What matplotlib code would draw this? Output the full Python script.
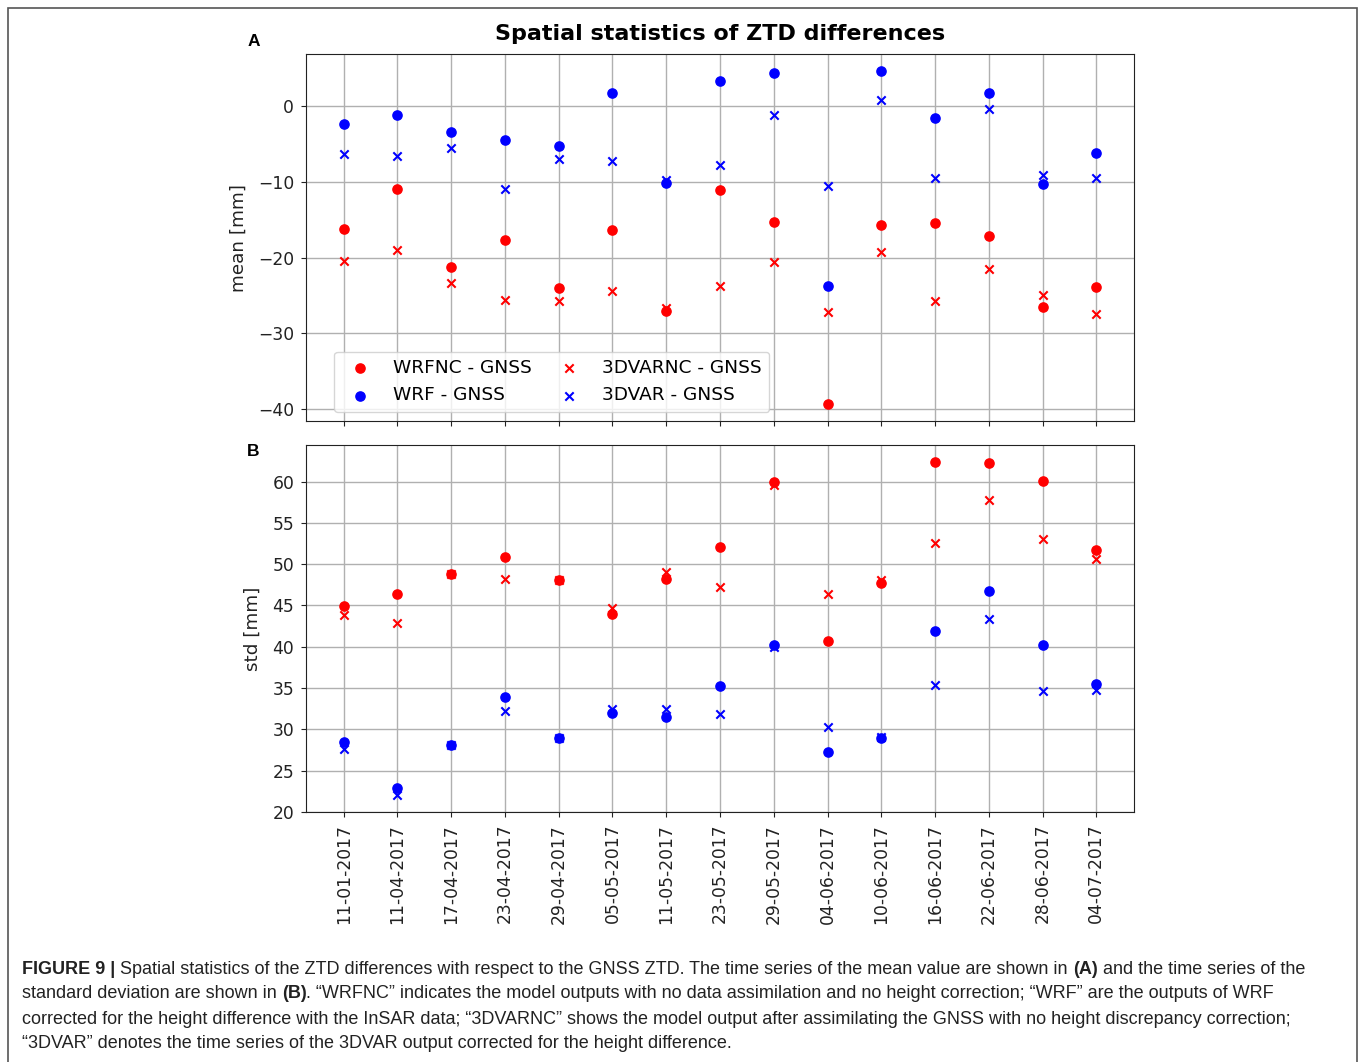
import numpy as np
import matplotlib
matplotlib.use("Agg")
import matplotlib.pyplot as plt
from matplotlib.patches import Rectangle

plt.rcParams["font.family"] = ["DejaVu Sans"]

# ---------------------------------------------------------------------------
# Data
# ---------------------------------------------------------------------------
dates = [
    "11-01-2017", "11-04-2017", "17-04-2017", "23-04-2017", "29-04-2017",
    "05-05-2017", "11-05-2017", "23-05-2017", "29-05-2017", "04-06-2017",
    "10-06-2017", "16-06-2017", "22-06-2017", "28-06-2017", "04-07-2017",
]

mean_wrfnc = [-16.2, -10.9, -21.2, -17.7, -24.0, -16.3, -27.1, -11.1, -15.3,
              -39.4, -15.7, -15.4, -17.2, -26.5, -23.9]
mean_wrf = [-2.3, -1.1, -3.4, -4.5, -5.2, 1.8, -10.2, 3.4, 4.4,
            -23.8, 4.7, -1.5, 1.8, -10.3, -6.2]
mean_3dvarnc = [-20.4, -19.0, -23.4, -25.6, -25.8, -24.4, -26.7, -23.8, -20.6,
                -27.2, -19.3, -25.8, -21.5, -24.9, -27.4]
mean_3dvar = [-6.3, -6.6, -5.5, -11.0, -7.0, -7.2, -9.7, -7.8, -1.1,
              -10.6, 0.8, -9.5, -0.4, -9.1, -9.5]

std_wrfnc = [44.9, 46.4, 48.8, 50.9, 48.1, 44.0, 48.2, 52.1, 59.9,
             40.7, 47.7, 62.4, 62.3, 60.1, 51.7]
std_wrf = [28.4, 22.9, 28.1, 33.9, 29.0, 32.0, 31.5, 35.2, 40.2,
           27.3, 29.0, 41.9, 46.7, 40.2, 35.5]
std_3dvarnc = [43.8, 42.9, 48.8, 48.2, 48.1, 44.7, 49.0, 47.2, 59.6,
               46.4, 48.1, 52.6, 57.7, 53.0, 50.6]
std_3dvar = [27.6, 22.0, 28.1, 32.2, 29.0, 32.4, 32.4, 31.9, 40.0,
             30.3, 29.1, 35.3, 43.4, 34.6, 34.7]

caption_lines = [
    [("FIGURE 9 | ", "bold"),
     ("Spatial statistics of the ZTD differences with respect to the GNSS ZTD. "
      "The time series of the mean value are shown in ", "normal"),
     ("(A)", "bold"),
     (" and the time series of the", "normal")],
    [("standard deviation are shown in ", "normal"),
     ("(B)", "bold"),
     (". \u201cWRFNC\u201d indicates the model outputs with no data assimilation "
      "and no height correction; \u201cWRF\u201d are the outputs of WRF", "normal")],
    [("corrected for the height difference with the InSAR data; \u201c3DVARNC\u201d "
      "shows the model output after assimilating the GNSS with no height "
      "discrepancy correction;", "normal")],
    [("\u201c3DVAR\u201d denotes the time series of the 3DVAR output corrected "
      "for the height difference.", "normal")],
]

# ---------------------------------------------------------------------------
# Figure
# ---------------------------------------------------------------------------
W, H = 1360, 1062
fig = plt.figure(figsize=(W / 100, H / 100), dpi=100)

FS_TICK = 12.3
FS_LAB = 13.2
FS_LEG = 13.3
ax_a = fig.add_axes([306 / W, 1 - 421 / H, 828 / W, 367 / H])
ax_b = fig.add_axes([306 / W, 1 - 812 / H, 828 / W, 367 / H], sharex=ax_a)

x = np.arange(len(dates))
S_DOT, S_X = 44, 36

ax_a.scatter(x, mean_wrfnc, color="red", marker="o", s=S_DOT, label="WRFNC - GNSS", zorder=3)
ax_a.scatter(x, mean_wrf, color="blue", marker="o", s=S_DOT, label="WRF - GNSS", zorder=3)
ax_a.scatter(x, mean_3dvarnc, color="red", marker="x", s=S_X, label="3DVARNC - GNSS", zorder=3)
ax_a.scatter(x, mean_3dvar, color="blue", marker="x", s=S_X, label="3DVAR - GNSS", zorder=3)

ax_b.scatter(x, std_wrfnc, color="red", marker="o", s=S_DOT, zorder=3)
ax_b.scatter(x, std_wrf, color="blue", marker="o", s=S_DOT, zorder=3)
ax_b.scatter(x, std_3dvarnc, color="red", marker="x", s=S_X, zorder=3)
ax_b.scatter(x, std_3dvar, color="blue", marker="x", s=S_X, zorder=3)

for ax in (ax_a, ax_b):
    ax.grid(True, color="#b0b0b0", linewidth=1.0)
    ax.set_axisbelow(True)
    ax.tick_params(labelsize=FS_TICK, colors="#222222", pad=5)
    for sp in ax.spines.values():
        sp.set_color("#222222")

ax_a.set_yticks([0, -10, -20, -30, -40])
ax_b.set_yticks(range(20, 61, 5))
ax_a.tick_params(axis="x", labelbottom=False)
ax_b.set_xticks(x)
ax_b.set_xticklabels(dates, rotation=90)

ax_a.set_ylabel("mean [mm]", fontsize=FS_LAB, color="#222222", labelpad=7.5)
ax_b.set_ylabel("std [mm]", fontsize=FS_LAB, color="#222222", labelpad=7.5)
ax_a.set_title("Spatial statistics of ZTD differences", fontsize=16.0,
               fontweight="bold", pad=10)

ax_a.legend(ncol=2, loc="lower left", bbox_to_anchor=(0.023, 0.0),
            fontsize=FS_LEG, columnspacing=1.0)

# panel letters
fig.text(254 / W, 1 - 41 / H, "A", fontsize=12.5, fontweight="bold",
         family="Liberation Sans", ha="center", va="center")
fig.text(253 / W, 1 - 451 / H, "B", fontsize=12.5, fontweight="bold",
         family="Liberation Sans", ha="center", va="center")

# outer frame
fig.patches.append(Rectangle((8 / W, -0.05), (1357 - 8) / W, 1.05 - 8 / H,
                             transform=fig.transFigure, fill=False,
                             edgecolor="#555555", linewidth=1.2))

# caption, drawn run by run so bold and normal parts share a line
renderer = fig.canvas.get_renderer()
line_y = [969, 994, 1019, 1044]
for runs, yy in zip(caption_lines, line_y):
    xx = 22
    for txt, weight in runs:
        t = fig.text(xx / W, 1 - yy / H, txt, fontsize=13.0, fontweight=weight,
                     family="Liberation Sans", color="#222222",
                     ha="left", va="center")
        xx += t.get_window_extent(renderer).width

fig.savefig("out.png", dpi=100)
